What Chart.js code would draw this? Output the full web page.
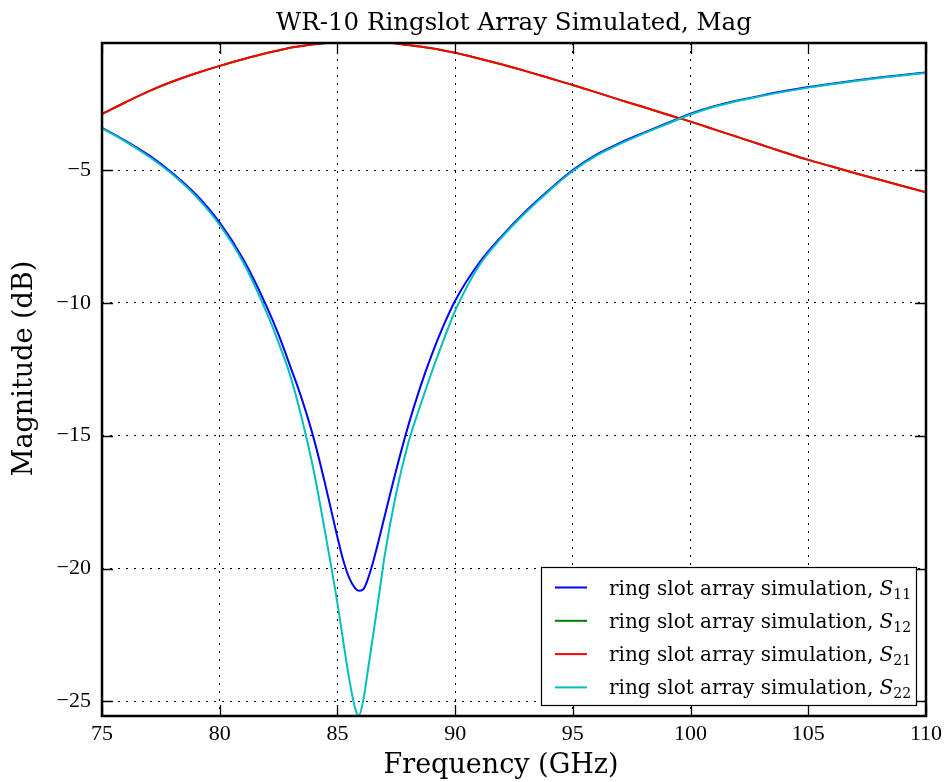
<!DOCTYPE html>
<html>
<head>
<meta charset="utf-8">
<title>WR-10 Ringslot Array Simulated, Mag</title>
<script src="https://cdn.jsdelivr.net/npm/chart.js@4.4.1/dist/chart.umd.min.js"></script>
<style>
  html, body { margin: 0; padding: 0; background: #fff; }
  #wrap { width: 946px; height: 782px; }
</style>
</head>
<body>
<div id="wrap"><canvas id="chart" width="946" height="782"></canvas></div>
<script>
// frequency points (GHz)
const freq = [75, 76, 77, 78, 79, 80, 81, 82, 82.5, 83, 83.5, 84, 84.5, 85, 85.25, 85.5, 85.75, 85.9,
  86.1, 86.25, 86.5, 86.75, 87, 87.5, 88, 88.5, 89, 89.5, 90, 91, 92, 93, 94, 95, 96, 97, 98, 99,
  100, 101, 102, 103, 104, 105, 106, 107, 108, 109, 110];

// magnitudes (dB)
const s11 = [-3.41, -3.9, -4.45, -5.12, -5.93, -6.98, -8.36, -10.15, -11.2, -12.4, -13.65, -15.12, -16.9, -18.82, -19.7, -20.35, -20.74, -20.84,
  -20.78, -20.5, -19.8, -18.95, -18.05, -16.28, -14.65, -13.22, -11.97, -10.87, -9.92, -8.52, -7.47, -6.55, -5.74, -5.0, -4.42, -3.98, -3.6, -3.24,
  -2.88, -2.6, -2.38, -2.2, -2.03, -1.88, -1.75, -1.63, -1.52, -1.42, -1.33];
const s12 = [-2.89, -2.45, -2.03, -1.67, -1.36, -1.08, -0.83, -0.6, -0.5, -0.4, -0.33, -0.27, -0.22, -0.17, -0.14, -0.12, -0.11, -0.1,
  -0.1, -0.11, -0.13, -0.15, -0.18, -0.24, -0.3, -0.35, -0.42, -0.5, -0.59, -0.8, -1.03, -1.28, -1.54, -1.8, -2.08, -2.36, -2.63, -2.91,
  -3.18, -3.47, -3.76, -4.05, -4.34, -4.62, -4.87, -5.12, -5.36, -5.6, -5.84];
const s21 = [-2.89, -2.45, -2.03, -1.67, -1.36, -1.08, -0.83, -0.6, -0.5, -0.4, -0.33, -0.27, -0.22, -0.17, -0.14, -0.12, -0.11, -0.1,
  -0.1, -0.11, -0.13, -0.15, -0.18, -0.24, -0.3, -0.35, -0.42, -0.5, -0.59, -0.8, -1.03, -1.28, -1.54, -1.8, -2.08, -2.36, -2.63, -2.91,
  -3.18, -3.47, -3.76, -4.05, -4.34, -4.62, -4.87, -5.12, -5.36, -5.6, -5.84];
const s22 = [-3.43, -3.93, -4.5, -5.17, -6.0, -7.07, -8.48, -10.38, -11.5, -12.75, -14.4, -16.35, -18.75, -21.3, -22.75, -24.15, -25.25, -25.55,
  -24.95, -24.1, -22.6, -21.1, -19.55, -17.15, -15.3, -13.92, -12.62, -11.42, -10.3, -8.62, -7.52, -6.6, -5.78, -5.04, -4.46, -4.02, -3.63, -3.27,
  -2.91, -2.62, -2.4, -2.22, -2.05, -1.9, -1.77, -1.65, -1.54, -1.44, -1.35];

const xTicks = [75, 80, 85, 90, 95, 100, 105, 110];
const yTicks = [-25, -20, -15, -10, -5];
const seriesNames = ['S11', 'S12', 'S21', 'S22'];
const seriesSubs = ['11', '12', '21', '22'];
const seriesColors = ['#0000ff', '#008000', '#ff0000', '#00bfbf'];
const legendText = 'ring slot array simulation, ';
const chartTitle = 'WR-10 Ringslot Array Simulated, Mag';
const xTitle = 'Frequency (GHz)';
const yTitle = 'Magnitude (dB)';

const serif = "'DejaVu Serif', serif";
const tickFont = "'Liberation Serif', serif";

function pts(ys) {
    return freq.map((f, i) => ({ x: f, y: ys[i] }));
}

// titles, frame, inward ticks and legend drawn like the original plot
const framePlugin = {
    id: 'frame',
    afterDraw(chart) {
        const ctx = chart.ctx;
        const a = chart.chartArea;
        const xs = chart.scales.x;
        const ys = chart.scales.y;
        ctx.save();

        ctx.fillStyle = '#000';
        ctx.textAlign = 'center';
        ctx.textBaseline = 'alphabetic';
        ctx.font = '24.5px ' + serif;
        ctx.fillText(chartTitle, (a.left + a.right) / 2, 29.5);
        ctx.font = '27px ' + serif;
        ctx.fillText(xTitle, (a.left + a.right) / 2 - 13, 773);
        ctx.save();
        ctx.translate(32, (a.top + a.bottom) / 2 - 11);
        ctx.rotate(-Math.PI / 2);
        ctx.fillText(yTitle, 0, 0);
        ctx.restore();

        ctx.strokeStyle = '#000';
        ctx.lineWidth = 1.3;
        ctx.beginPath();
        xTicks.forEach(v => {
            const px = Math.round(xs.getPixelForValue(v)) + 0.5;
            ctx.moveTo(px, a.bottom); ctx.lineTo(px, a.bottom - 11);
            ctx.moveTo(px, a.top); ctx.lineTo(px, a.top + 11);
        });
        yTicks.forEach(v => {
            const py = Math.round(ys.getPixelForValue(v)) + 0.5;
            ctx.moveTo(a.left, py); ctx.lineTo(a.left + 11, py);
            ctx.moveTo(a.right, py); ctx.lineTo(a.right - 11, py);
        });
        ctx.stroke();
        ctx.lineWidth = 2.5;
        ctx.strokeRect(a.left, a.top, a.right - a.left, a.bottom - a.top);

        // legend
        const w = 375, h = 138;
        const bx = a.right - 10 - w, by = a.bottom - 11 - h;
        ctx.fillStyle = '#fff';
        ctx.fillRect(bx, by, w, h);
        ctx.lineWidth = 1.2;
        ctx.strokeStyle = '#000';
        ctx.strokeRect(bx + 0.5, by + 0.5, w, h);
        ctx.textAlign = 'left';
        seriesNames.forEach((name, i) => {
            const ly = by + 20.5 + i * 33.3;
            ctx.strokeStyle = seriesColors[i];
            ctx.lineWidth = 2;
            ctx.beginPath();
            ctx.moveTo(bx + 14, ly); ctx.lineTo(bx + 46, ly);
            ctx.stroke();
            ctx.fillStyle = '#000';
            ctx.font = '20px ' + serif;
            let tx = bx + 68;
            ctx.fillText(legendText, tx, ly + 7);
            tx += ctx.measureText(legendText).width;
            ctx.font = 'italic 20px ' + serif;
            ctx.fillText('S', tx, ly + 7);
            tx += ctx.measureText('S').width;
            ctx.font = '14px ' + serif;
            ctx.fillText(seriesSubs[i], tx, ly + 11);
        });
        ctx.restore();
    }
};

const ctx = document.getElementById('chart').getContext('2d');
new Chart(ctx, {
    type: 'line',
    data: {
        datasets: [
            { label: seriesNames[0], data: pts(s11), borderColor: seriesColors[0], order: 3 },
            { label: seriesNames[1], data: pts(s12), borderColor: seriesColors[1], order: 2 },
            { label: seriesNames[2], data: pts(s21), borderColor: seriesColors[2], order: 1 },
            { label: seriesNames[3], data: pts(s22), borderColor: seriesColors[3], order: 0 },
        ],
    },
    options: {
        responsive: false,
        animation: false,
        layout: { padding: { left: 0, right: 20, top: 43, bottom: 0 } },
        elements: {
            point: { radius: 0 },
            line: { borderWidth: 2, cubicInterpolationMode: 'monotone', fill: false },
        },
        plugins: {
            legend: { display: false },
            tooltip: { enabled: false },
            title: { display: false },
        },
        scales: {
            x: {
                type: 'linear',
                min: 75,
                max: 110,
                afterBuildTicks: s => { s.ticks = xTicks.map(v => ({ value: v })); },
                afterFit: s => { s.height = 66; s.paddingLeft = 0; s.paddingRight = 0; },
                ticks: { color: '#000', font: { family: tickFont, size: 22 }, padding: 5, maxRotation: 0 },
                grid: { color: '#000', lineWidth: 1, drawTicks: false },
                border: { display: false, dash: [2, 6] },
            },
            y: {
                min: -25.55,
                max: -0.22,
                afterBuildTicks: s => { s.ticks = yTicks.map(v => ({ value: v })); },
                afterFit: s => { s.width = 102; },
                ticks: {
                    color: '#000',
                    font: { family: tickFont, size: 22 },
                    padding: 11,
                    callback: v => String(v).replace('-', '\u2212'),
                },
                grid: { color: '#000', lineWidth: 1, drawTicks: false },
                border: { display: false, dash: [2, 6] },
            },
        },
    },
    plugins: [framePlugin],
});
</script>
</body>
</html>
